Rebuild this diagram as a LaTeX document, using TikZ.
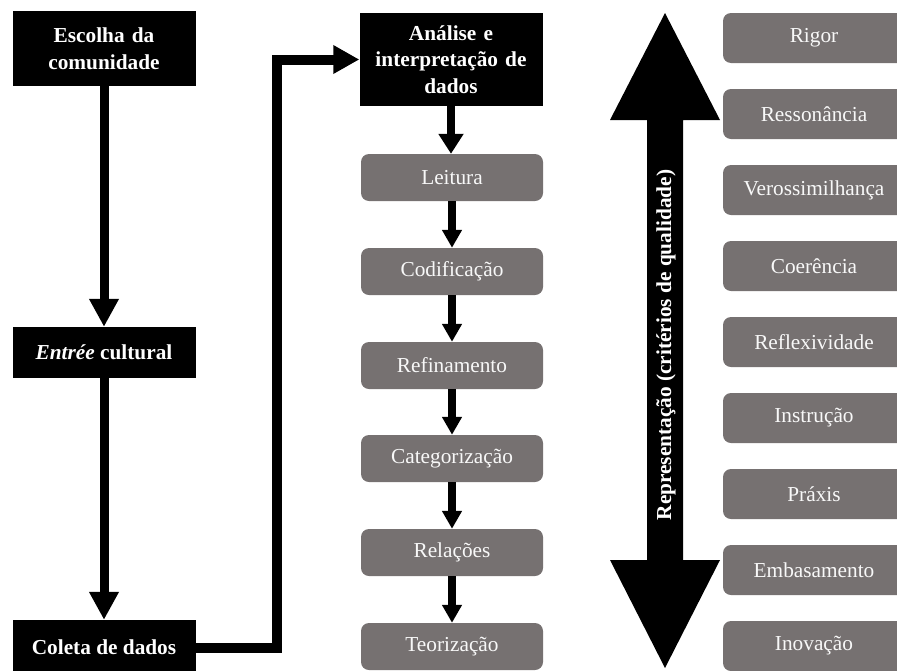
\documentclass[tikz,border=0pt]{standalone}
\usepackage{fontspec}
\setmainfont{Liberation Serif}
\usetikzlibrary{arrows.meta}
\definecolor{boxgray}{RGB}{118,113,113}
\definecolor{txtlight}{RGB}{248,248,248}
\begin{document}
\begin{tikzpicture}[x=1pt,y=-1pt,
  lbl/.style={font=\fontsize{21.3}{26.5}\selectfont},
  blackbox/.style={fill=black, text=white, font=\fontsize{21.3}{26.5}\selectfont\bfseries,
    align=center, inner sep=0pt, minimum width=183pt},
  graybox/.style={lbl, fill=boxgray, text=txtlight, rounded corners=8pt,
    minimum width=182pt, minimum height=47pt, inner sep=0pt},
  critbox/.style={graybox, minimum height=50pt},
  bigflow/.style={line width=9pt, -{Triangle[width=28pt,length=28pt]}},
  elbowflow/.style={line width=10pt, line join=miter, -{Triangle[width=27pt,length=26pt]}},
  topflow/.style={line width=8pt, -{Triangle[width=24pt,length=20pt]}},
  smallflow/.style={line width=7.5pt, -{Triangle[width=19pt,length=18pt]}},
  bigarrow/.style={fill=black}
]
\useasboundingbox (0,0) rectangle (897,670);
\clip (0,0) rectangle (897,670);

% left column
\node[blackbox, minimum height=75pt, text width=183pt] (esc) at (104,48.5) {Escolha da\\comunidade};
\node[blackbox, minimum height=51pt] (ent) at (104,352.5) {\textit{Entrée} cultural};
\node[blackbox, minimum height=55pt] (col) at (104,647.5) {Coleta de dados};

\draw[bigflow] (esc.south) -- (ent.north);
\draw[bigflow] (ent.south) -- (col.north);

% analysis column
\node[blackbox, minimum height=93pt, text width=183pt] (ana) at (451,59.5) {Análise e\\interpretação de\\dados};
\coordinate (elb) at (277,0);
\draw[elbowflow] (col.east) -- (col.east -| elb) -- (ana.west -| elb) -- (ana.west);

\node[graybox] (lei) at (452,177.5) {Leitura};
\node[graybox] (cod) at (452,271.5) {Codificação};
\node[graybox] (ref) at (452,365.5) {Refinamento};
\node[graybox] (cat) at (452,458.5) {Categorização};
\node[graybox] (rel) at (452,552.5) {Relações};
\node[graybox] (teo) at (452,646.5) {Teorização};

\draw[topflow] (ana.south) -- (ana.south |- lei.north);
\draw[smallflow] (lei.south) -- (cod.north);
\draw[smallflow] (cod.south) -- (ref.north);
\draw[smallflow] (ref.south) -- (cat.north);
\draw[smallflow] (cat.south) -- (rel.north);
\draw[smallflow] (rel.south) -- (teo.north);

% big double arrow
\fill[bigarrow] (665,13) -- (720,120) -- (683,120) -- (683,560) -- (720,560) -- (665,668)
  -- (610,560) -- (647,560) -- (647,120) -- (610,120) -- cycle;
\node[rotate=90, text=white, font=\fontsize{21.3}{26.5}\selectfont\bfseries] (rep) at (666,345) {Representação (critérios de qualidade)};

% criteria column
\node[critbox] (c1) at (814,38) {Rigor};
\node[critbox] (c2) at (814,114) {Ressonância};
\node[critbox] (c3) at (814,190) {Verossimilhança};
\node[critbox] (c4) at (814,266) {Coerência};
\node[critbox] (c5) at (814,342) {Reflexividade};
\node[critbox] (c6) at (814,418) {Instrução};
\node[critbox] (c7) at (814,494) {Práxis};
\node[critbox] (c8) at (814,570) {Embasamento};
\node[critbox] (c9) at (814,646) {Inovação};
\end{tikzpicture}
\end{document}
